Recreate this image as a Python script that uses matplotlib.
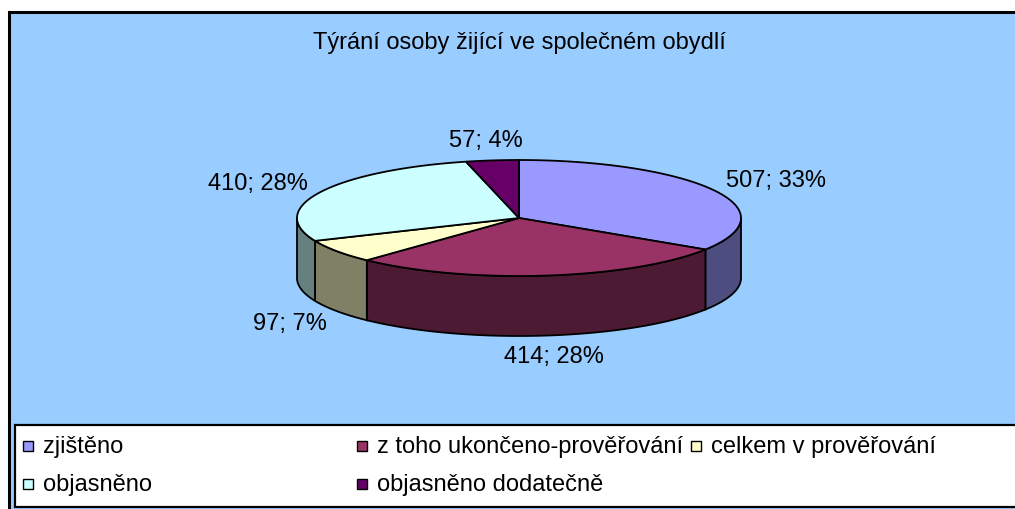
import numpy as np
import matplotlib.pyplot as plt
from matplotlib.patches import Polygon, Rectangle
from matplotlib.colors import to_rgb

plt.rcParams['font.family'] = ['Liberation Sans', 'DejaVu Sans']

# data
title = 'Týrání osoby žijící ve společném obydlí'
categories = ['zjištěno', 'z toho ukončeno-prověřování', 'celkem v prověřování',
              'objasněno', 'objasněno dodatečně']
values = [507, 414, 97, 410, 57]
pct_labels = [33, 28, 7, 28, 4]
colors = ['#9999FF', '#993366', '#FFFFCC', '#CCFFFF', '#660066']

# pie geometry (pixels)
cx, cy = 519, 219
a, b = 222, 58
depth = 60
fs = 17


def ell(t, dy=0.0):
    t = np.radians(t)
    return np.column_stack([cx + a * np.cos(t), cy - b * np.sin(t) + dy])


fig = plt.figure(figsize=(10.15, 5.10), dpi=100)
ax = fig.add_axes([0, 0, 1, 1])
ax.set_xlim(0, 1015)
ax.set_ylim(510, 0)
ax.axis('off')

# chart area
ax.add_patch(Rectangle((9, 13), 1030, 520, facecolor='#99CCFF',
                       edgecolor='black', lw=2.2, zorder=0))
ax.text(cx, 43, title, ha='center', va='center', fontsize=fs)

frac = np.array(values) / sum(values)
cum = np.concatenate([[0], np.cumsum(frac)])
starts = 90 - 360 * cum[:-1]
ends = 90 - 360 * cum[1:]

# side walls (front half only)
for t0, t1, c in zip(starts, ends, colors):
    hi = min(t0, 0)
    lo = max(t1, -180)
    if hi <= lo:
        continue
    ts = np.linspace(lo, hi, 60)
    pts = np.vstack([ell(ts), ell(ts[::-1], depth)])
    side = tuple(v * 0.5 for v in to_rgb(c))
    ax.add_patch(Polygon(pts, closed=True, facecolor=side,
                         edgecolor='black', lw=1.3, zorder=2))

# top faces
for t0, t1, c in zip(starts, ends, colors):
    ts = np.linspace(t0, t1, 120)
    pts = np.vstack([[cx, cy], ell(ts)])
    ax.add_patch(Polygon(pts, closed=True, facecolor=c,
                         edgecolor='black', lw=1.3, zorder=3))

# data labels, placed outside the rim at the slice's mid angle
renderer = fig.canvas.get_renderer()
gap_x, gap_y = 20, 12
h = fs * 100 / 72 * 0.75
for t0, t1, v, p in zip(starts, ends, values, pct_labels):
    tm = (t0 + t1) / 2
    c, s = np.cos(np.radians(tm)), np.sin(np.radians(tm))
    px, py = ell([tm], depth if s < 0 else 0)[0]
    t = ax.text(px, py, f'{v}; {p}%', ha='center', va='center',
                fontsize=fs, zorder=4)
    w = t.get_window_extent(renderer).width
    t.set_position((px + c * (gap_x + w / 2), py - s * (gap_y + h / 2)))

# legend
ax.add_patch(Rectangle((15, 426), 1030, 82, facecolor='white',
                       edgecolor='black', lw=1.6, zorder=1))
for i, (cat, c) in enumerate(zip(categories, colors)):
    row, col = divmod(i, 3)
    x0 = 23 + 334 * col
    y0 = 447 + 38 * row
    ax.add_patch(Rectangle((x0, y0 - 5), 10, 10, facecolor=c,
                           edgecolor='black', lw=1.0, zorder=2))
    ax.text(x0 + 20, y0, cat, ha='left', va='center', fontsize=fs, zorder=2)

fig.savefig('out.png', dpi=100, facecolor='white')
